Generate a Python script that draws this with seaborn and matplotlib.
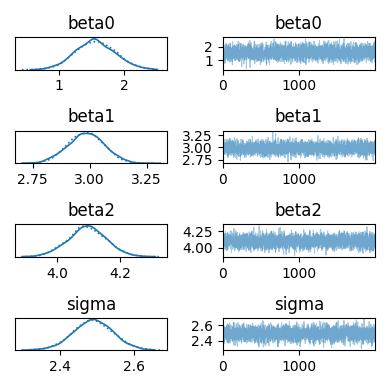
import numpy as np
import pandas as pd
import matplotlib
matplotlib.use("Agg")
import matplotlib.pyplot as plt
import seaborn as sns

# posterior summaries (centre and spread of each parameter)
params = ["beta0", "beta1", "beta2", "sigma"]
post_mean = [1.57, 2.985, 4.095, 2.49]
post_sd = [0.31, 0.080, 0.060, 0.055]
n_chains = 2
n_draws = 2000
chain_styles = ["-", ":"]

# the individual MCMC draws cannot be read from the image; stand-in draws
# are made with a fixed seed so the traces look like the reference
rng = np.random.default_rng(7)
rows = []
for p, m, s in zip(params, post_mean, post_sd):
    for c in range(n_chains):
        vals = rng.normal(m, s, n_draws)
        rows.append(pd.DataFrame({"param": p, "chain": c,
                                  "draw": np.arange(n_draws), "value": vals}))
df = pd.concat(rows, ignore_index=True)

fig, axes = plt.subplots(len(params), 2, figsize=(3.9, 3.89), dpi=100)

for i, p in enumerate(params):
    sub = df[df["param"] == p]
    ax_k, ax_t = axes[i]
    for c in range(n_chains):
        ch = sub[sub["chain"] == c]
        sns.kdeplot(x=ch["value"], ax=ax_k, color="C0", linestyle=chain_styles[c],
                    lw=1.2, cut=0, bw_adjust=1.0)
        sns.lineplot(x=ch["draw"], y=ch["value"], ax=ax_t, color="C0",
                     alpha=0.4, lw=0.75, estimator=None)
    ax_k.set_title(p)
    ax_k.set_yticks([])
    ax_k.set_xlabel("")
    ax_k.set_ylabel("")
    ax_t.set_title(p)
    ax_t.set_xlabel("")
    ax_t.set_ylabel("")
    ax_t.set_xlim(0, n_draws - 1)
    ax_t.set_xticks([0, 1000])

plt.tight_layout()
plt.savefig("out.png", dpi=100)
plt.close()
